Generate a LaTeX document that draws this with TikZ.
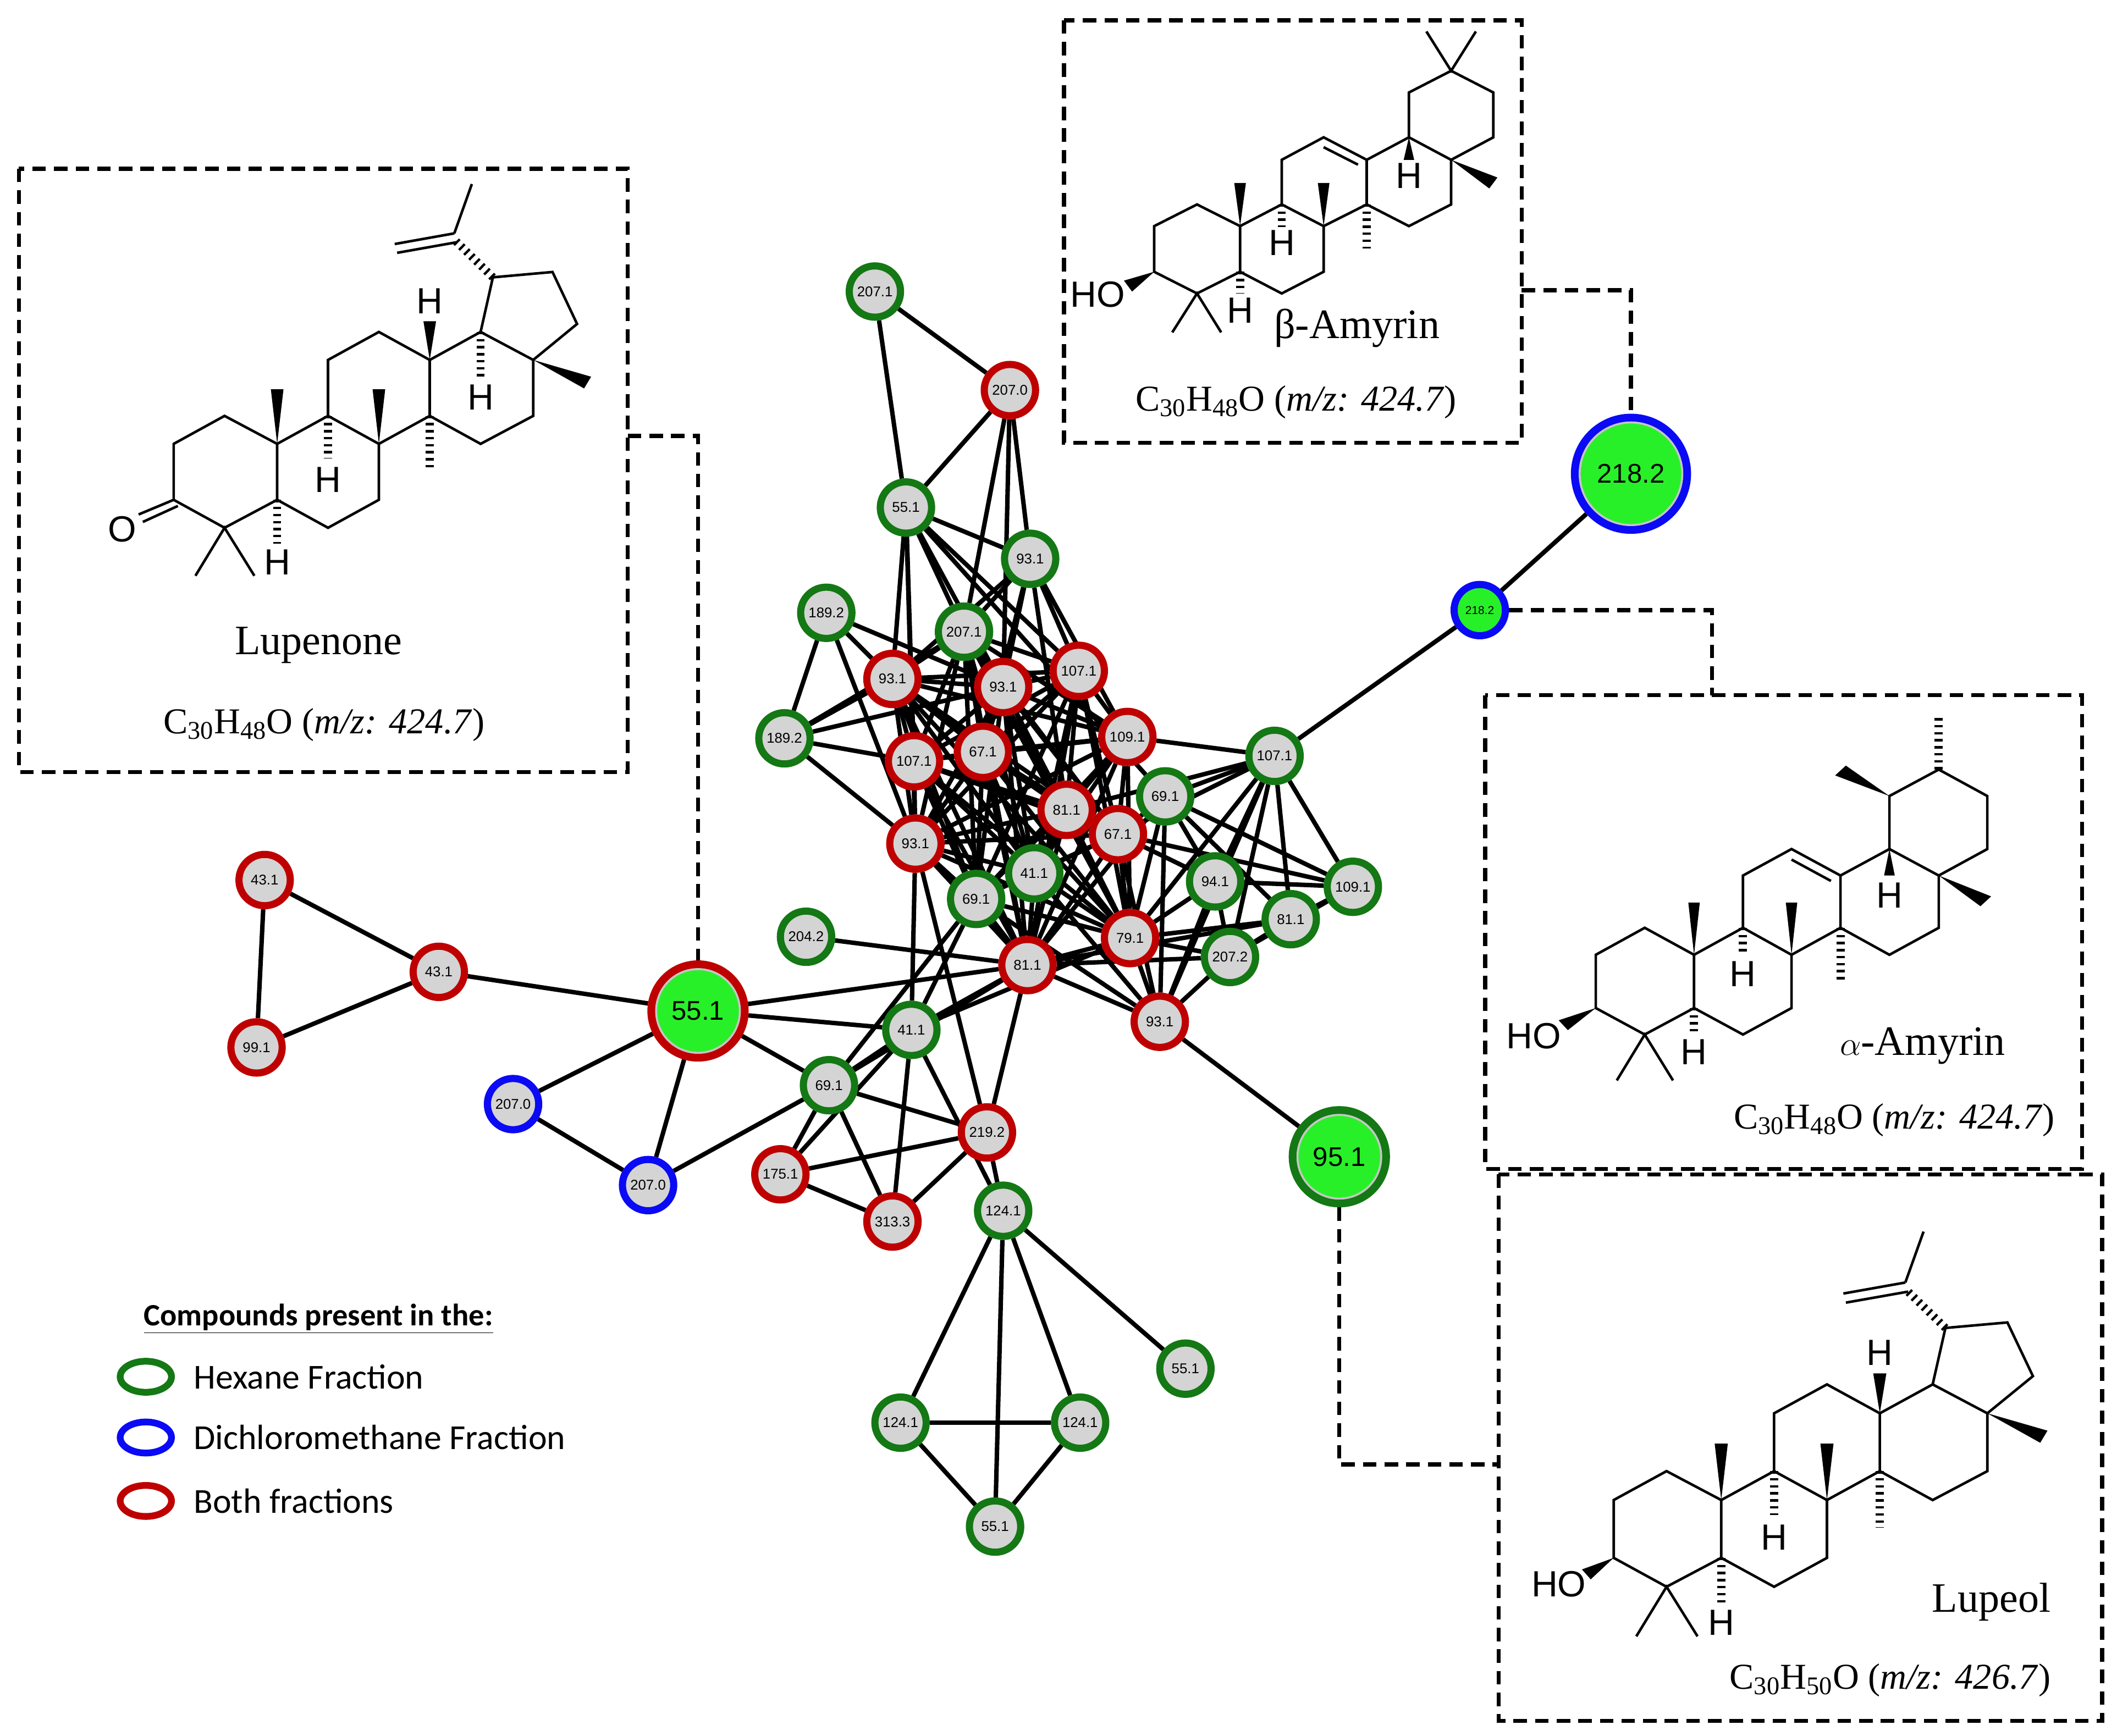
\documentclass[tikz,border=0pt]{standalone}
\usepackage{fontspec}
\setmainfont{Liberation Serif}
\newfontfamily\arialf{Liberation Sans}
\newfontfamily\calib{Carlito}
\usetikzlibrary{calc,shapes.geometric}
\pgfdeclarelayer{background}
\pgfsetlayers{background,main}

\definecolor{hexgreen}{RGB}{20,120,20}
\definecolor{bothred}{RGB}{190,0,0}
\definecolor{dcmblue}{RGB}{10,10,245}
\definecolor{nodegrey}{RGB}{212,212,212}
\definecolor{lime}{RGB}{40,240,40}

% wedge: narrow end, wide end, half-width offset at wide end
\newcommand\wedgebond[3]{\fill #1 -- ($#2+#3$) -- ($#2-#3$) -- cycle;}

\newcommand\lupaneskel{%
\draw[bond] (260,985)--(405,880)--(555,985)--(555,1195)--(405,1300)--(260,1195)--cycle;
\draw[bond] (555,985)--(700,880)--(845,985)--(845,1195)--(700,1300)--(555,1195);
\draw[bond] (700,880)--(700,670)--(845,565)--(990,670)--(990,880)--(845,985);
\draw[bond] (990,670)--(1135,565)--(1285,670)--(1285,880)--(1135,985)--(990,880);
\draw[bond] (1135,565)--(1170,360)--(1340,340)--(1410,535)--(1285,670);
\draw[bond] (322,1480)--(405,1300)--(490,1480);
\wedgebond{(555,985)}{(555,780)}{(18,0)}
\wedgebond{(845,985)}{(845,780)}{(18,0)}
\wedgebond{(990,670)}{(990,525)}{(18,0)}
\wedgebond{(1285,670)}{(1440,755)}{(10,-22)}
\draw[hashbond] (990,880)--(990,1085);
\draw[hashbond] (700,880)--(700,1040);
\draw[hashbond] (555,1195)--(555,1360);
\draw[hashbond] (1170,360)--(1065,225);
\draw[bond] (1060,195)--(1110,10);
\draw[bond] (1060,195)--(890,235);
\draw[bond] (1068,228)--(897,268);
\node[atom] at (700,1120) {H};
\node[atom] at (555,1430) {H};
\node[atom] at (990,450) {H};
}

\begin{document}
\begin{tikzpicture}[x=1pt,y=-1pt]
\tikzset{edge/.style={draw=black,line width=3.3pt}}
\tikzset{frag/.style={circle,fill=nodegrey,line width=5.3pt,minimum size=38pt,inner sep=0pt,font=\arialf\fontsize{10.5}{11}\selectfont}}
\tikzset{hex/.style={frag,draw=hexgreen}}
\tikzset{both/.style={frag,draw=bothred}}
\tikzset{dcm/.style={frag,draw=dcmblue}}
\tikzset{big/.style={circle,fill=lime,line width=7pt,minimum size=68pt,inner sep=0pt,font=\arialf\fontsize{20}{20}\selectfont}}
\tikzset{box/.style={draw=black,line width=3pt,dash pattern=on 10pt off 6pt}}
\tikzset{link/.style={draw=black,line width=3pt,dash pattern=on 10pt off 6pt}}
\tikzset{bond/.style={draw=black,line width=1.9pt,line join=miter}}
\tikzset{hashbond/.style={draw=black,line width=6pt,dash pattern=on 1.8pt off 3.4pt}}
\tikzset{atom/.style={font=\arialf\fontsize{27}{27}\selectfont,inner sep=0pt}}
\tikzset{title/.style={font=\fontsize{31}{32}\selectfont}}
\tikzset{formula/.style={font=\fontsize{27}{28}\selectfont}}
\tikzset{legtext/.style={font=\calib\fontsize{26}{27}\selectfont,anchor=west}}

\useasboundingbox (0,0) rectangle (1568,1286);

% structures
\begin{scope}[shift={(61.1,134.4)},xscale=0.2598,yscale=0.1974]
\lupaneskel
\draw[bond] (260,1195)--(160,1250);
\draw[bond] (272,1218)--(172,1278);
\node[atom] at (113,1305) {O};
\draw[hashbond] (1135,565)--(1135,740);
\node[atom] at (1135,810) {H};
\end{scope}

\begin{scope}[shift={(1125,910.4)},xscale=0.27,yscale=0.204]
\lupaneskel
\wedgebond{(260,1195)}{(185,1255)}{(-12,-18)}
\node[atom,anchor=east] at (185,1290) {HO};
\end{scope}

\begin{scope}[shift={(790.2,16.3)},xscale=0.2156,yscale=0.1559]
\draw[bond] (300,970)--(447,867)--(595,970)--(595,1187)--(447,1290)--(300,1187)--cycle;
\draw[bond] (595,970)--(738,867)--(882,970)--(882,1187)--(738,1290)--(595,1187);
\draw[bond] (738,867)--(738,655)--(882,548)--(1030,655)--(1030,867)--(882,970);
\draw[bond] (882,595)--(1000,678);
\draw[bond] (1030,655)--(1175,548)--(1320,655)--(1320,867)--(1175,970)--(1030,867);
\draw[bond] (1175,548)--(1175,335)--(1320,232)--(1465,335)--(1465,548)--(1320,655);
\draw[bond] (1235,45)--(1320,232)--(1405,45);
\draw[bond] (362,1475)--(447,1290)--(530,1475);
\wedgebond{(595,970)}{(595,765)}{(20,0)}
\wedgebond{(882,970)}{(882,765)}{(20,0)}
\wedgebond{(1320,655)}{(1465,765)}{(14,-26)}
\wedgebond{(1175,548)}{(1175,655)}{(18,0)}
\wedgebond{(300,1187)}{(210,1255)}{(-14,-26)}
\draw[hashbond] (738,867)--(738,975);
\draw[hashbond] (595,1187)--(595,1290);
\draw[hashbond] (1030,867)--(1030,1075);
\node[atom] at (738,1050) {H};
\node[atom] at (595,1370) {H};
\node[atom] at (1175,730) {H};
\node[atom,anchor=east] at (200,1295) {HO};
\end{scope}

\begin{scope}[shift={(1099.8,521.4)},xscale=0.2832,yscale=0.1818]
\draw[bond] (290,1023)--(418,913)--(547,1023)--(547,1240)--(418,1348)--(290,1240)--cycle;
\draw[bond] (547,1023)--(675,913)--(802,1023)--(802,1240)--(675,1348)--(547,1240);
\draw[bond] (675,913)--(675,700)--(802,592)--(930,700)--(930,913)--(802,1023);
\draw[bond] (802,635)--(905,722);
\draw[bond] (930,700)--(1058,592)--(1187,700)--(1187,913)--(1058,1023)--(930,913);
\draw[bond] (1058,592)--(1058,376)--(1187,268)--(1314,376)--(1314,592)--(1187,700);
\draw[bond] (345,1535)--(418,1348)--(492,1535);
\wedgebond{(1058,376)}{(930,272)}{(14,-20)}
\wedgebond{(1187,700)}{(1310,805)}{(14,-20)}
\wedgebond{(1058,592)}{(1058,700)}{(14,0)}
\wedgebond{(547,1023)}{(547,810)}{(15,0)}
\wedgebond{(802,1023)}{(802,810)}{(15,0)}
\wedgebond{(290,1240)}{(205,1310)}{(-12,-20)}
\draw[hashbond] (1187,268)--(1187,55);
\draw[hashbond] (675,913)--(675,1020);
\draw[hashbond] (930,913)--(930,1130);
\draw[hashbond] (547,1240)--(547,1345);
\node[atom] at (1058,780) {H};
\node[atom] at (675,1100) {H};
\node[atom] at (547,1420) {H};
\node[atom,anchor=east] at (200,1355) {HO};
\end{scope}

% boxes and captions
\draw[box] (14,125) rectangle (465,572);
\draw[box] (788,15) rectangle (1127,328);
\draw[box] (1100,515) rectangle (1542,866);
\draw[box] (1110,870) rectangle (1557,1275);
\node[title] (lupenone) at (236,478) {Lupenone};
\node[formula] (lupenonef) at (240,537) {C\textsubscript{30}H\textsubscript{48}O (\textit{m/z: 424.7})};
\node[title] (bamyrin) at (1005,243) {β-Amyrin};
\node[formula] (bamyrinf) at (960,298) {C\textsubscript{30}H\textsubscript{48}O (\textit{m/z: 424.7})};
\node[title] (aamyrin) at (1424,775) {$\alpha$-Amyrin};
\node[formula] (aamyrinf) at (1403,830) {C\textsubscript{30}H\textsubscript{48}O (\textit{m/z: 424.7})};
\node[title] (lupeol) at (1475,1187) {Lupeol};
\node[formula] (lupeolf) at (1400,1245) {C\textsubscript{30}H\textsubscript{50}O (\textit{m/z: 426.7})};

% fragment nodes
\node[hex] (gA) at (648,216) {207.1};
\node[hex] (gB) at (671,376) {55.1};
\node[hex] (gC) at (763,414) {93.1};
\node[hex] (gD) at (612,454) {189.2};
\node[hex] (gE) at (714,468) {207.1};
\node[hex] (gF) at (581,547) {189.2};
\node[hex] (gG) at (863,590) {69.1};
\node[hex] (gH) at (944,560) {107.1};
\node[hex] (gI) at (1002,657) {109.1};
\node[hex] (gJ) at (900,653) {94.1};
\node[hex] (gK) at (956,681) {81.1};
\node[hex] (gL) at (911,709) {207.2};
\node[hex] (gM) at (766,647) {41.1};
\node[hex] (gN) at (723,666) {69.1};
\node[hex] (gO) at (597,694) {204.2};
\node[hex] (gP) at (675,763) {41.1};
\node[hex] (gQ) at (614,804) {69.1};
\node[hex] (gR) at (743,897) {124.1};
\node[hex] (gS) at (878,1014) {55.1};
\node[hex] (gT) at (667,1054) {124.1};
\node[hex] (gU) at (800,1054) {124.1};
\node[hex] (gV) at (737,1131) {55.1};
\node[both] (rA) at (748,289) {207.0};
\node[both] (rB) at (661,503) {93.1};
\node[both] (rC) at (743,509) {93.1};
\node[both] (rD) at (799,497) {107.1};
\node[both] (rE) at (677,564) {107.1};
\node[both] (rF) at (728,557) {67.1};
\node[both] (rG) at (835,546) {109.1};
\node[both] (rH) at (790,600) {81.1};
\node[both] (rI) at (828,618) {67.1};
\node[both] (rJ) at (678,625) {93.1};
\node[both] (rK) at (837,695) {79.1};
\node[both] (rL) at (761,715) {81.1};
\node[both] (rM) at (859,757) {93.1};
\node[both] (rN) at (731,839) {219.2};
\node[both] (rO) at (578,870) {175.1};
\node[both] (rP) at (661,905) {313.3};
\node[both] (rQ) at (196,652) {43.1};
\node[both] (rR) at (325,720) {43.1};
\node[both] (rS) at (190,776) {99.1};
\node[dcm] (bA) at (380,818) {207.0};
\node[dcm] (bB) at (480,878) {207.0};
\node[dcm,fill=lime,font=\arialf\fontsize{8.5}{8}\selectfont] (bC) at (1096,452) {218.2};
\node[big,draw=bothred] (n551) at (517,749) {55.1};
\draw[gray!45,line width=1.5pt] (n551.center) circle (31pt);
\node[big,draw=hexgreen] (n951) at (992,857) {95.1};
\draw[gray!45,line width=1.5pt] (n951.center) circle (31pt);
\node[big,draw=dcmblue,minimum size=82pt] (n2182) at (1208,351) {218.2};
\draw[gray!45,line width=1.5pt] (n2182.center) circle (38pt);

% connectors
\begin{pgfonlayer}{background}
\foreach \a/\b in {gA/rA,gA/gB,rA/gB,rA/gC,rA/rC,rA/gE,gB/gC,gB/gE,gB/rB,gB/rE,gB/rJ,gB/rC,gB/rD,gB/gG,
  gC/gE,gC/rB,gC/rC,gC/rD,gC/rG,gC/rF,gC/rH,gD/gF,gD/rB,gD/rC,gD/rJ,gF/rB,gF/gE,gF/rE,gF/rJ,gF/rC,
  gH/rG,gH/gG,gH/rI,gH/gJ,gH/gK,gH/gI,gH/gL,gH/rK,gH/rM,gH/rH,gH/bC,bC/n2182,
  gI/gJ,gI/rI,gI/gK,gI/gL,gI/gG,gJ/rK,gJ/rI,gJ/gL,gJ/rM,gJ/gG,gK/rK,gK/gL,gK/gG,gK/rL,gL/rK,gL/rM,gL/rL,
  gG/rK,gG/rI,gG/rM,gG/rL,rM/rK,rM/rI,rM/rL,rM/gM,rM/gN,rM/n951,gO/rL,
  rL/n551,rL/gP,rL/gQ,rL/rN,gP/n551,gP/gQ,gP/rO,gP/rP,gP/gR,gP/gN,gP/rJ,gP/rK,
  gQ/n551,gQ/bB,gQ/rO,gQ/rP,gQ/rN,gQ/gN,rJ/rN,rN/rO,rN/rP,rN/gR,rO/rP,
  gR/gT,gR/gU,gR/gV,gR/gS,gT/gU,gT/gV,gU/gV,
  n551/rR,n551/bA,n551/bB,bA/bB,rQ/rR,rQ/rS,rS/rR} {
  \draw[edge] (\a) -- (\b);
}
\foreach \a [count=\i] in {rB,rC,rD,rE,rF,rG,rH,rI,rJ,rK,rL,gM,gN,gE} {
  \foreach \b [count=\j] in {rB,rC,rD,rE,rF,rG,rH,rI,rJ,rK,rL,gM,gN,gE} {
    \ifnum\j>\i \draw[edge] (\a) -- (\b); \fi
  }
}
\end{pgfonlayer}

% dashed links to structures
\coordinate (lupenoneend) at (465,323);
\coordinate (bamyrinend) at (1127,215);
\coordinate (aamyrintop) at (1268,515);
\coordinate (lupeolend) at (1110,1085);
\draw[link] (lupenoneend) -| (n551.north);
\draw[link] (bamyrinend) -| (n2182.north);
\draw[link] (bC.east) -| (aamyrintop);
\draw[link] (n951.south) |- (lupeolend);

% legend
\node[legtext,font=\calib\fontsize{23}{24}\selectfont] (legtitle) at (103,977) {\textbf{\underline{Compounds present in the:}}};
\node[ellipse,draw=hexgreen,line width=5pt,minimum width=38pt,minimum height=23pt] (leghex) at (108,1020) {};
\node[ellipse,draw=dcmblue,line width=5pt,minimum width=38pt,minimum height=23pt] (legdcm) at (108,1065) {};
\node[ellipse,draw=bothred,line width=5pt,minimum width=38pt,minimum height=23pt] (legboth) at (108,1112) {};
\node[legtext] at (140,1020) {Hexane Fraction};
\node[legtext] at (140,1065) {Dichloromethane Fraction};
\node[legtext] at (140,1112) {Both fractions};
\end{tikzpicture}
\end{document}
